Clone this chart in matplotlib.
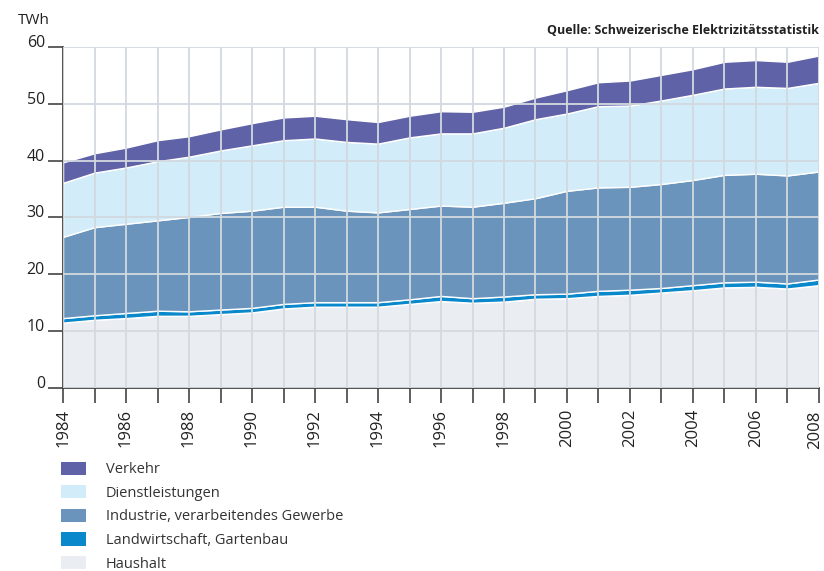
import matplotlib
matplotlib.use("Agg")
import matplotlib.pyplot as plt
import matplotlib.transforms as mtransforms
from matplotlib.patches import Patch

plt.rcParams["font.family"] = ["Open Sans", "DejaVu Sans"]

years = list(range(1984, 2009))

# TWh per sector (stacked bottom to top)
haushalt = [11.5, 12.0, 12.3, 12.7, 12.7, 13.0, 13.3, 14.0, 14.3, 14.3, 14.3, 14.8, 15.3,
            15.0, 15.2, 15.7, 15.8, 16.2, 16.4, 16.8, 17.2, 17.7, 17.8, 17.5, 18.1]
landwirtschaft = [0.8, 0.8, 0.9, 0.9, 0.8, 0.8, 0.8, 0.8, 0.8, 0.8, 0.8, 0.8, 0.9,
                  0.8, 0.9, 0.8, 0.8, 0.9, 0.9, 0.8, 0.9, 0.9, 0.9, 0.9, 1.0]
industrie = [14.3, 15.5, 15.7, 15.9, 16.6, 17.0, 17.1, 17.1, 16.8, 16.1, 15.8, 15.9, 15.9,
             16.1, 16.5, 16.9, 18.1, 18.2, 18.1, 18.3, 18.5, 18.9, 19.0, 19.0, 19.0]
dienstleistungen = [9.5, 9.6, 9.9, 10.4, 10.6, 11.0, 11.5, 11.7, 12.0, 12.1, 12.1, 12.6, 12.7,
                    12.9, 13.2, 13.9, 13.6, 14.3, 14.3, 14.7, 15.0, 15.2, 15.3, 15.4, 15.6]
verkehr = [3.6, 3.4, 3.5, 3.7, 3.6, 3.7, 3.9, 4.0, 4.0, 4.0, 3.8, 3.8, 3.9,
           3.8, 3.7, 3.8, 4.1, 4.2, 4.4, 4.5, 4.5, 4.7, 4.7, 4.6, 4.8]

labels = ["Haushalt", "Landwirtschaft, Gartenbau", "Industrie, verarbeitendes Gewerbe",
          "Dienstleistungen", "Verkehr"]
colors = ["#eaeef2", "#0a88cc", "#6a94bb", "#d2edf9", "#6062a8"]

fig = plt.figure(figsize=(8.24, 5.71), dpi=100)
ax = fig.add_axes([0.0765, 0.3205, 0.9174, 0.5972])

ax.stackplot(years, haushalt, landwirtschaft, industrie, dienstleistungen, verkehr,
             colors=colors, edgecolor="white", linewidth=1.0, zorder=1)

ax.set_xlim(1984, 2008)
ax.set_ylim(0, 60)
ax.set_xticks(years)
# 2008 is drawn separately, nudged left so it stays inside the figure
ax.set_xticklabels([str(y) if y % 2 == 0 and y != 2008 else "" for y in years], rotation=90,
                   fontsize=12, color="#222222")
ax.annotate("2008", xy=(2008, 0), xycoords=("data", "axes fraction"), xytext=(-3, -16),
            textcoords="offset points", rotation=90, ha="center", va="top",
            fontsize=12, color="#222222", annotation_clip=False)
ax.set_yticks(range(0, 61, 10))
ax.set_yticklabels([str(v) for v in range(0, 61, 10)], fontsize=11.5, color="#222222")
for lab in ax.get_yticklabels():
    lab.set_va("baseline")

ax.grid(True, color="#d3d9df", linewidth=1.3, zorder=2)
ax.set_axisbelow(False)
for side in ("top", "right"):
    ax.spines[side].set_visible(False)
for side in ("left", "bottom"):
    ax.spines[side].set_color("#333333")
    ax.spines[side].set_linewidth(1.2)
ax.tick_params(axis="both", direction="out", length=11, width=1.2, color="#444444")
ax.tick_params(axis="y", pad=2)
ax.tick_params(axis="x", pad=4)

fig.text(18 / 824, 1 - 21 / 571, "TWh", fontsize=11, color="#222222", va="center")
fig.text(819 / 824, 1 - 30 / 571, "Quelle: Schweizerische Elektrizitätsstatistik",
         fontsize=9, fontweight="bold", color="#222222", ha="right", va="center")

handles = [Patch(facecolor=c, edgecolor="none") for c in colors][::-1]
fig.legend(handles, labels[::-1], loc="upper left", bbox_to_anchor=(55 / 824, 1 - 456 / 571),
           frameon=False, fontsize=10.5, handlelength=1.7, handleheight=1.0,
           handletextpad=1.4, labelspacing=0.55, borderaxespad=0, labelcolor="#333333")

fig.savefig("out.png", dpi=100)
